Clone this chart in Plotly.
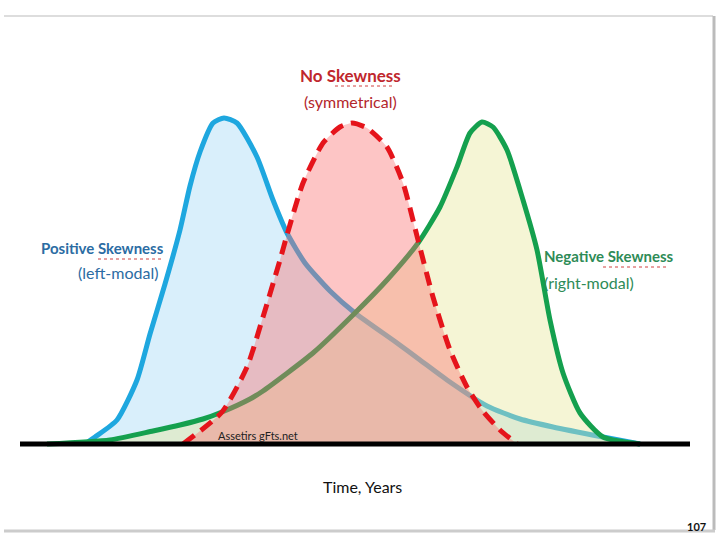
import plotly.graph_objects as go

# Curves: horizontal position and height above the time axis
positive_x = [85, 95, 117, 137, 150, 165, 180, 190, 200, 213, 224, 237, 257,
              273, 287, 305, 330, 355, 397, 420, 447, 487, 520, 553, 603, 640]
positive_h = [0, 7, 24, 64, 110, 160, 214, 258, 292, 321, 326, 321, 287,
              244, 211, 181, 153, 131, 101, 84, 64, 38, 25, 17, 7, 0]

symmetric_x = [183, 222, 247, 263, 280, 287, 303, 323, 340, 352, 367, 387,
               403, 418, 433, 450, 467, 482, 500, 517]
symmetric_h = [0, 32, 77, 127, 184, 209, 261, 301, 317, 321, 316, 297,
               261, 204, 147, 94, 57, 34, 14, 0]

negative_x = [47, 110, 153, 180, 203, 222, 250, 263, 313, 355, 387, 418, 440,
              457, 470, 482, 493, 507, 523, 537, 550, 563, 580, 603, 640]
negative_h = [0, 4, 13, 19, 25, 32, 45, 53, 91, 131, 164, 201, 237,
              277, 311, 322, 317, 294, 244, 194, 124, 71, 31, 7, 0]

FONT = "Lato, Open Sans, sans-serif"

fig = go.Figure()

# positive skew (blue) drawn first, others layered over it
fig.add_trace(go.Scatter(
    x=positive_x, y=positive_h,
    mode="lines", line=dict(color="#1EA7DF", width=5, shape="spline", smoothing=0.6),
    fill="tozeroy", fillcolor="#D9EFFB",
    hoverinfo="skip"))

fig.add_trace(go.Scatter(
    x=negative_x, y=negative_h,
    mode="lines", line=dict(color="#14A04E", width=5, shape="spline", smoothing=0.6),
    fill="tozeroy", fillcolor="rgba(230,230,150,0.4)",
    hoverinfo="skip"))

fig.add_trace(go.Scatter(
    x=symmetric_x, y=symmetric_h,
    mode="lines",
    line=dict(color="#E5141B", width=5, dash="14px,8px", shape="spline", smoothing=0.6),
    fill="tozeroy", fillcolor="rgba(250,110,110,0.4)",
    hoverinfo="skip"))


def ann(text, x, y, size, color, anchor="center", bold=False):
    if bold:
        text = "<b>" + text + "</b>"
    fig.add_annotation(
        x=x, y=y, text=text, showarrow=False, xanchor=anchor, yanchor="middle",
        font=dict(family=FONT, size=size, color=color))


ann("No Skewness", 350, 369, 17, "#C0272D", bold=True)
ann("(symmetrical)", 350, 343, 16, "#B3262B")
ann("Positive Skewness", 102, 196, 15, "#2B6CA3", bold=True)
ann("(left-modal)", 161, 172, 16, "#2B6CA3", anchor="right")
ann("Negative Skewness", 542, 188, 15, "#2E8B57", anchor="left", bold=True)
ann("(right-modal)", 542, 162, 16, "#2E8B57", anchor="left")
ann("Assetirs gFts.net", 216, 9, 11, "#222222", anchor="left")
ann("Time, Years", 362, -42, 16, "#111111")
ann("107", 708, -82, 11, "#111111", anchor="right", bold=True)

shapes = [
    # time axis
    dict(type="line", x0=20, x1=690, y0=0, y1=0, line=dict(color="black", width=5), layer="above"),
    # spell-check squiggles under "Skewness"
    dict(type="line", x0=335, x1=393, y0=358, y1=358, line=dict(color="#D04040", width=1, dash="dot")),
    dict(type="line", x0=98, x1=162, y0=185, y1=185, line=dict(color="#D04040", width=1, dash="dot")),
    dict(type="line", x0=603, x1=668, y0=177, y1=177, line=dict(color="#D04040", width=1, dash="dot")),
    # slide frame
    dict(type="line", x0=4, x1=713, y0=428, y1=428, line=dict(color="#DDDDDD", width=2)),
    dict(type="line", x0=714, x1=714, y0=428, y1=-86, line=dict(color="#BBBBBB", width=3)),
    dict(type="line", x0=4, x1=715, y0=-87, y1=-87, line=dict(color="#CCCCCC", width=3)),
]

fig.update_layout(
    width=720, height=540,
    margin=dict(l=0, r=0, t=0, b=0),
    paper_bgcolor="white", plot_bgcolor="white",
    showlegend=False,
    xaxis=dict(range=[0, 720], visible=False, fixedrange=True),
    yaxis=dict(range=[-96, 444], visible=False, fixedrange=True),
    shapes=shapes,
)

# drop the default page margin so the figure sits at the window's corner
fig.write_html("out.html", config={"displayModeBar": False},
               post_script="document.body.style.margin='0';")
